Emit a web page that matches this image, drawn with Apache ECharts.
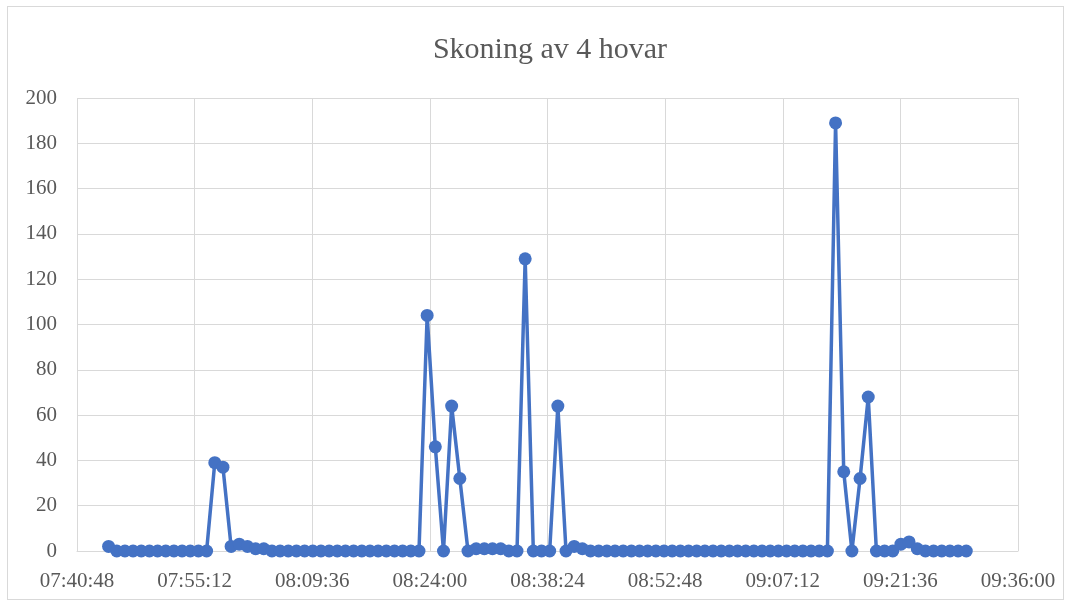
<!DOCTYPE html>
<html>
<head>
<meta charset="utf-8">
<script src="https://cdn.jsdelivr.net/npm/echarts@6/dist/echarts.min.js"></script>
<style>
  html, body { margin: 0; padding: 0; background: #ffffff; }
  #frame { position: absolute; left: 7px; top: 6px; width: 1055px; height: 592px; border: 1px solid #d9d9d9; }
  #chart { position: absolute; left: 0; top: 0; width: 1071px; height: 605px; }
</style>
</head>
<body>
<div id="frame"></div>
<div id="chart"></div>
<script>
const title = "Skoning av 4 hovar";

// one reading per minute
const times = [
  "07:44:40", "07:45:40", "07:46:40", "07:47:40", "07:48:40", "07:49:40", "07:50:40", "07:51:40",
  "07:52:40", "07:53:40", "07:54:40", "07:55:40", "07:56:40", "07:57:40", "07:58:40", "07:59:40",
  "08:00:40", "08:01:40", "08:02:40", "08:03:40", "08:04:40", "08:05:40", "08:06:40", "08:07:40",
  "08:08:40", "08:09:40", "08:10:40", "08:11:40", "08:12:40", "08:13:40", "08:14:40", "08:15:40",
  "08:16:40", "08:17:40", "08:18:40", "08:19:40", "08:20:40", "08:21:40", "08:22:40", "08:23:40",
  "08:24:40", "08:25:40", "08:26:40", "08:27:40", "08:28:40", "08:29:40", "08:30:40", "08:31:40",
  "08:32:40", "08:33:40", "08:34:40", "08:35:40", "08:36:40", "08:37:40", "08:38:40", "08:39:40",
  "08:40:40", "08:41:40", "08:42:40", "08:43:40", "08:44:40", "08:45:40", "08:46:40", "08:47:40",
  "08:48:40", "08:49:40", "08:50:40", "08:51:40", "08:52:40", "08:53:40", "08:54:40", "08:55:40",
  "08:56:40", "08:57:40", "08:58:40", "08:59:40", "09:00:40", "09:01:40", "09:02:40", "09:03:40",
  "09:04:40", "09:05:40", "09:06:40", "09:07:40", "09:08:40", "09:09:40", "09:10:40", "09:11:40",
  "09:12:40", "09:13:40", "09:14:40", "09:15:40", "09:16:40", "09:17:40", "09:18:40", "09:19:40",
  "09:20:40", "09:21:40", "09:22:40", "09:23:40", "09:24:40", "09:25:40", "09:26:40", "09:27:40",
  "09:28:40", "09:29:40",
];

const values = [
  2, 0, 0, 0, 0, 0, 0, 0,
  0, 0, 0, 0, 0, 39, 37, 2,
  3, 2, 1, 1, 0, 0, 0, 0,
  0, 0, 0, 0, 0, 0, 0, 0,
  0, 0, 0, 0, 0, 0, 0, 104,
  46, 0, 64, 32, 0, 1, 1, 1,
  1, 0, 0, 129, 0, 0, 0, 64,
  0, 2, 1, 0, 0, 0, 0, 0,
  0, 0, 0, 0, 0, 0, 0, 0,
  0, 0, 0, 0, 0, 0, 0, 0,
  0, 0, 0, 0, 0, 0, 0, 0,
  0, 189, 35, 0, 32, 68, 0, 0,
  0, 3, 4, 1, 0, 0, 0, 0,
  0, 0,
];

const xStart = "07:40:48";
const xEnd = "09:36:00";
const xStep = 864; // 00:14:24
const yTicks = [0, 20, 40, 60, 80, 100, 120, 140, 160, 180, 200];

const toSeconds = (t) => {
  const [h, m, s] = t.split(":").map(Number);
  return h * 3600 + m * 60 + s;
};
const pad = (n) => String(n).padStart(2, "0");
const toClock = (sec) => `${pad(Math.floor(sec / 3600))}:${pad(Math.floor((sec % 3600) / 60))}:${pad(sec % 60)}`;

const font = "Liberation Serif";
const textColor = "#595959";
const gridColor = "#d9d9d9";
const blue = "#4472c4";

const chart = echarts.init(document.getElementById("chart"), null, { renderer: "canvas" });
chart.setOption({
  animation: false,
  title: {
    text: title,
    left: 545,
    top: 30,
    textAlign: "center",
    textStyle: { fontFamily: font, fontSize: 30, fontWeight: "normal", color: textColor },
  },
  grid: { left: 77, right: 53, top: 98, bottom: 54 },
  xAxis: {
    type: "value",
    min: toSeconds(xStart),
    max: toSeconds(xEnd),
    interval: xStep,
    axisLine: { show: true, lineStyle: { color: gridColor, width: 1 } },
    axisTick: { show: false },
    axisLabel: {
      color: textColor,
      fontFamily: font,
      fontSize: 21,
      margin: 20,
      formatter: (v) => toClock(v),
    },
    splitLine: { show: true, lineStyle: { color: gridColor, width: 1 } },
  },
  yAxis: {
    type: "value",
    min: yTicks[0],
    max: yTicks[yTicks.length - 1],
    interval: yTicks[1] - yTicks[0],
    axisLine: { show: false },
    axisTick: { show: false },
    axisLabel: { color: textColor, fontFamily: font, fontSize: 21, margin: 20 },
    splitLine: { lineStyle: { color: gridColor, width: 1 } },
  },
  series: [{
    type: "line",
    data: times.map((t, i) => [toSeconds(t), values[i]]),
    symbol: "circle",
    symbolSize: 13,
    showAllSymbol: true,
    lineStyle: { color: blue, width: 3.5 },
    itemStyle: { color: blue },
  }],
});
</script>
</body>
</html>
